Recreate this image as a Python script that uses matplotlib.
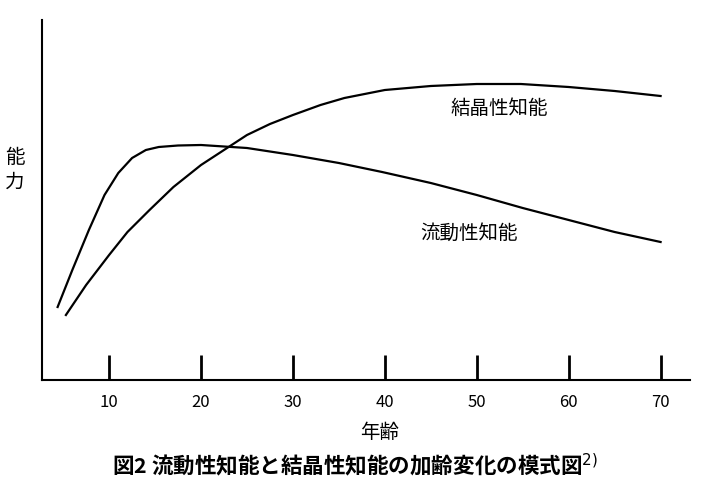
import matplotlib.pyplot as plt

plt.rcParams['font.family'] = 'Noto Sans CJK JP'

# Data (ability in arbitrary units)
fluid_age = [4.4, 6.0, 7.8, 9.5, 11.0, 12.5, 14.0, 15.4, 17.5, 20, 25, 30, 35, 39.7, 45, 50, 55, 60, 65, 70]
fluid_val = [73, 110, 150, 185, 207, 222, 230, 233, 234.5, 235, 232, 225, 217, 208, 197, 185, 172, 160, 148, 138]
cryst_age = [5.3, 7.5, 10, 12, 14.4, 17, 20, 22.5, 25, 27.5, 30, 33, 35.6, 40, 45, 50, 54.8, 60, 65, 70]
cryst_val = [65, 95, 125, 148, 170, 193, 215, 230, 245, 256, 265, 275, 282, 290, 294, 296, 296, 293, 289, 284]
xticks = [10, 20, 30, 40, 50, 60, 70]

fig = plt.figure(figsize=(7.02, 5.01), dpi=100)
ax = fig.add_axes([42/702, 121/501, 648/702, 360/501])
ax.plot(fluid_age, fluid_val, color='black', lw=1.6)
ax.plot(cryst_age, cryst_val, color='black', lw=1.6)

ax.set_xlim(2.7, 73.2)
ax.set_ylim(0, 360)
ax.spines['top'].set_visible(False)
ax.spines['right'].set_visible(False)
ax.spines['left'].set_linewidth(1.5)
ax.spines['bottom'].set_linewidth(1.5)
ax.set_yticks([])
ax.set_xticks(xticks)
ax.set_xticklabels([str(t) for t in xticks], fontsize=12)
ax.tick_params(axis='x', direction='in', length=18, width=2, pad=10)

ax.text(47.1, 272, '結晶性知能', fontsize=14, ha='left', va='center')
ax.text(43.9, 147, '流動性知能', fontsize=14, ha='left', va='center')

fig.text(15/702, 1 - 170/501, '能\n力', fontsize=14, ha='center', va='center', linespacing=1.2)
fig.text(380/702, 1 - 432/501, '年齢', fontsize=14, ha='center', va='center')
fig.text(355/702, 1 - 465/501, '図2 流動性知能と結晶性知能の加齢変化の模式図$^{2)}$',
         fontsize=15.5, fontweight='bold', ha='center', va='center')

fig.savefig('out.png', dpi=100)
